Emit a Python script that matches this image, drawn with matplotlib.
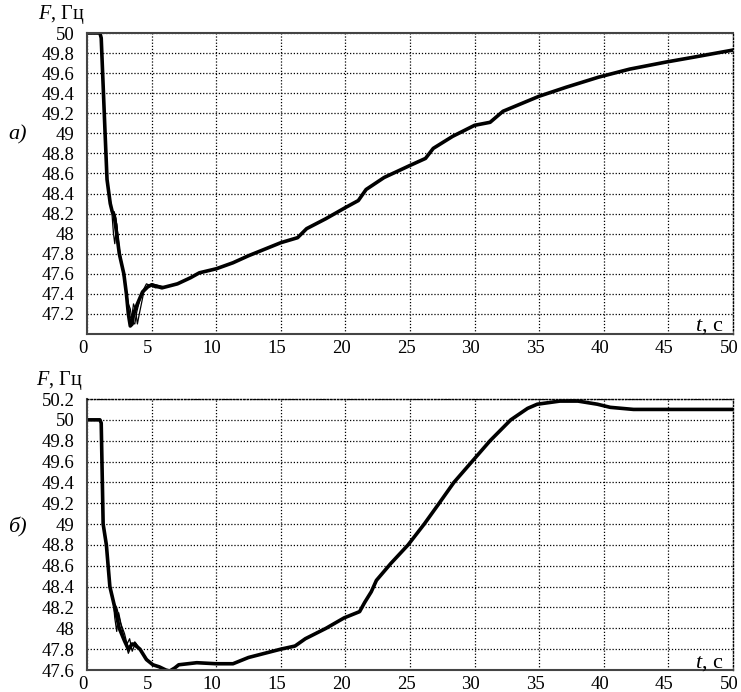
import numpy as np
import matplotlib.pyplot as plt
from matplotlib.transforms import ScaledTranslation

plt.rcParams['font.family'] = ['Liberation Serif', 'DejaVu Serif']
plt.rcParams['mathtext.fontset'] = 'custom'
plt.rcParams['mathtext.it'] = 'Liberation Serif:italic'
plt.rcParams['mathtext.rm'] = 'Liberation Serif'

# panel a) - main curve
t_a = [0, 1.0, 1.1, 1.4, 1.55, 1.8, 1.95, 2.1, 2.3, 2.5, 2.85, 3.05, 3.2, 3.35, 3.5,
       3.6, 3.9, 4.3, 4.7, 5.0, 5.8, 7.0, 8.0, 8.7, 10, 11.3, 12.5, 15, 16.3, 17.0,
       18.5, 20, 21.0, 21.6, 23, 25, 26.2, 26.8, 28.3, 30, 31.2, 32.2, 35, 37.1,
       39.6, 42, 44.8, 47, 50]
f_a = [50, 50, 49.95, 49.0, 48.54, 48.3, 48.22, 48.18, 48.0, 47.8, 47.6, 47.4, 47.2,
       47.08, 47.1, 47.2, 47.3, 47.42, 47.47, 47.49, 47.46, 47.5, 47.56, 47.61, 47.65,
       47.71, 47.78, 47.91, 47.96, 48.05, 48.15, 48.26, 48.33, 48.44, 48.56, 48.68,
       48.75, 48.85, 48.97, 49.08, 49.11, 49.22, 49.37, 49.46, 49.56, 49.64, 49.71,
       49.76, 49.83]
# panel a) - other runs (differ only in the transient)
t_a1 = [1.55, 1.9, 2.05, 2.15, 2.3, 2.45, 2.8, 3.1, 3.3, 3.45, 3.6, 3.75, 3.9, 4.05, 4.4, 5.0, 6.0]
f_a1 = [48.54, 48.25, 48.0, 47.9, 48.1, 47.85, 47.6, 47.35, 47.18, 47.15, 47.3, 47.25, 47.1, 47.2, 47.42, 47.5, 47.47]
t_a2 = [1.55, 1.95, 2.1, 2.25, 2.5, 2.9, 3.2, 3.35, 3.5, 3.7, 3.85, 4.2, 4.6, 5.3, 6.0]
f_a2 = [48.54, 48.2, 48.22, 48.15, 47.85, 47.55, 47.3, 47.25, 47.12, 47.1, 47.22, 47.4, 47.5, 47.46, 47.47]

# panel б) - main curve
t_b = [0, 1.0, 1.1, 1.25, 1.5, 1.77, 2.15, 2.5, 2.9, 3.2, 3.5, 3.7, 4.1, 4.6, 5.1, 5.6,
       6.1, 6.4, 6.8, 7.1, 8.5, 10, 11.3, 12.5, 15, 16.1, 16.9, 18.5, 19.9, 21.1, 21.5,
       22.0, 22.4, 23.5, 24.85, 26.1, 27.2, 28.4, 29.8, 31.2, 32.8, 34.1, 34.85, 36.6,
       38, 39.5, 40.5, 42.3, 44, 50]
f_b = [50, 50, 49.97, 49.0, 48.8, 48.4, 48.2, 48.0, 47.88, 47.8, 47.85, 47.84, 47.8,
       47.7, 47.65, 47.63, 47.6, 47.59, 47.62, 47.65, 47.67, 47.66, 47.66, 47.72, 47.8,
       47.83, 47.9, 48.0, 48.1, 48.16, 48.25, 48.35, 48.46, 48.62, 48.8, 49.0, 49.19,
       49.4, 49.6, 49.8, 50.0, 50.11, 50.15, 50.18, 50.18, 50.15, 50.12, 50.1, 50.1, 50.1]
t_b1 = [1.7, 2.0, 2.15, 2.3, 2.45, 2.7, 3.0, 3.2, 3.4, 3.7, 4.0, 4.5, 5.0, 6.0]
f_b1 = [48.45, 48.3, 48.1, 47.97, 48.15, 48.0, 47.85, 47.76, 47.82, 47.87, 47.82, 47.72, 47.66, 47.61]
t_b2 = [1.7, 2.05, 2.3, 2.6, 2.9, 3.1, 3.3, 3.5, 3.75, 4.2, 4.8, 5.5, 6.0]
f_b2 = [48.45, 48.25, 48.2, 48.05, 47.95, 47.85, 47.9, 47.78, 47.86, 47.78, 47.68, 47.63, 47.61]

xticks = np.arange(0, 51, 5)
yticks_a = np.round(np.arange(47.2, 50.01, 0.2), 1)
yticks_b = np.round(np.arange(47.6, 50.21, 0.2), 1)

fig = plt.figure(figsize=(7.41, 6.92), dpi=100)
W, H = 741, 692
ax1 = fig.add_axes([87 / W, 1 - 334 / H, (733 - 87) / W, (334 - 33) / H])
ax2 = fig.add_axes([87 / W, 1 - 670 / H, (733 - 87) / W, (670 - 399) / H])

dotted = (0, (1, 1.5))
shift = ScaledTranslation(-4 / 100, 0, fig.dpi_scale_trans)


def style(ax, ylim, yticks, top_solid):
    ax.set_xlim(0, 50)
    ax.set_ylim(*ylim)
    ax.set_xticks(xticks)
    ax.set_yticks(yticks)
    ax.set_yticklabels([f'{v:g}' for v in yticks])
    ax.tick_params(length=0, labelsize=13.5, pad=9)
    ax.tick_params(axis='x', pad=4)
    for lab in ax.get_xticklabels():
        lab.set_transform(lab.get_transform() + shift)
    ax.grid(True, color='black', linestyle=dotted, linewidth=0.9)
    ax.set_axisbelow(True)
    for s in ['left', 'bottom']:
        ax.spines[s].set_color('#444444')
        ax.spines[s].set_linewidth(1.5)
    ax.spines['right'].set_linestyle(dotted)
    ax.spines['right'].set_linewidth(1.0)
    if top_solid:
        ax.spines['top'].set_color('#444444')
        ax.spines['top'].set_linewidth(1.5)
    else:
        ax.spines['top'].set_linestyle(dotted)
        ax.spines['top'].set_linewidth(1.0)


style(ax1, (47.0, 50.0), yticks_a, True)
style(ax2, (47.6, 50.2), yticks_b, False)

ax1.plot(t_a1, f_a1, color='black', lw=0.9)
ax1.plot(t_a2, f_a2, color='black', lw=0.9)
ax1.plot(t_a, f_a, color='black', lw=2.6, solid_joinstyle='round')

ax2.plot(t_b1, f_b1, color='black', lw=0.9)
ax2.plot(t_b2, f_b2, color='black', lw=0.9)
ax2.plot(t_b, f_b, color='black', lw=2.6, solid_joinstyle='round')

for ax in (ax1, ax2):
    ax.text(0.985, 0.01, '$t$, с', transform=ax.transAxes, ha='right',
            va='baseline', fontsize=16)

fig.text(38 / W, 1 - 15 / H, '$F$, Гц', ha='left', va='center', fontsize=14.5)
fig.text(36 / W, 1 - 380 / H, '$F$, Гц', ha='left', va='center', fontsize=14.5)
fig.text(8 / W, 1 - 135 / H, 'а)', ha='left', va='center', fontsize=16, style='italic')
fig.text(8 / W, 1 - 527 / H, 'б)', ha='left', va='center', fontsize=16, style='italic')

fig.savefig('out.png', dpi=100)
